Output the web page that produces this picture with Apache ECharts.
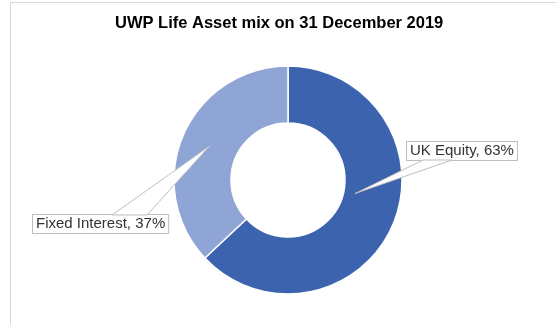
<!DOCTYPE html>
<html>
<head>
<meta charset="utf-8">
<script src="https://cdn.jsdelivr.net/npm/echarts@6/dist/echarts.min.js"></script>
<style>
  html, body { margin: 0; padding: 0; background: #fff; }
  #chart { width: 556px; height: 325px; }
</style>
</head>
<body>
<div id="chart"></div>
<script>
// Asset mix data
const categories = ['UK Equity', 'Fixed Interest'];
const values = [63, 37];
const colors = ['#3C64AE', '#8FA5D6'];

// Ring geometry
const CX = 288, CY = 180, R_INNER = 57, R_OUTER = 114;

// Callout boxes: top-left corner of each label box, where the pointer meets the box,
// and where the pointer tip sits inside its slice (angle shift from slice middle, depth in ring)
const callouts = [
  { x: 407, y: 142, base: [16, 45], side: 'bottom', angleShift: -12, ring: 0.2 },
  { x: 33,  y: 215, base: [79, 114], side: 'top', angleShift: 0, ring: 0.5 }
];
const BOX_H = 18;
const FONT = 'Arial, "Liberation Sans", sans-serif';

const chart = echarts.init(document.getElementById('chart'), null, { renderer: 'canvas' });

// Build pointer wedges from the slice angles computed from the values
const total = values.reduce((a, b) => a + b, 0);
let acc = 0;
const wedges = values.map((v, i) => {
  const start = acc / total * 360;
  acc += v;
  const end = acc / total * 360;
  const c = callouts[i];
  const theta = ((start + end) / 2 + c.angleShift) * Math.PI / 180;
  const r = R_INNER + (R_OUTER - R_INNER) * c.ring;
  const tip = [CX + r * Math.sin(theta), CY - r * Math.cos(theta)];
  const by = c.side === 'bottom' ? c.y + BOX_H : c.y;
  return {
    type: 'polygon',
    z: 10,
    silent: true,
    shape: { points: [tip, [c.x + c.base[0], by], [c.x + c.base[1], by]] },
    style: { fill: '#ffffff', stroke: '#BFBFBF', lineWidth: 1 }
  };
});

chart.setOption({
  backgroundColor: '#ffffff',
  animation: false,
  title: {
    text: 'UWP Life Asset mix on 31 December 2019',
    left: 110,
    top: 10,
    textStyle: { fontFamily: FONT, fontWeight: 'bold', fontSize: 16.5, color: '#000000' }
  },
  graphic: [
    {
      type: 'rect',
      z: -1,
      silent: true,
      shape: { x: 10.5, y: 2.5, width: 600, height: 400 },
      style: { fill: 'none', stroke: '#D9D9D9', lineWidth: 1 }
    }
  ].concat(wedges),
  series: [{
    type: 'pie',
    center: [CX, CY],
    radius: [R_INNER, R_OUTER],
    startAngle: 90,
    clockwise: true,
    avoidLabelOverlap: false,
    emphasis: { disabled: true },
    itemStyle: { borderColor: '#ffffff', borderWidth: 1.5 },
    label: {
      show: true,
      formatter: '{b}, {c}%',
      fontFamily: FONT,
      fontSize: 15,
      lineHeight: 16,
      color: '#333333',
      backgroundColor: '#ffffff',
      borderColor: '#BFBFBF',
      borderWidth: 1,
      padding: [1, 3]
    },
    labelLine: { show: false },
    labelLayout: function (params) {
      const c = callouts[params.dataIndex];
      return { x: c.x, y: c.y, align: 'left', verticalAlign: 'top' };
    },
    data: categories.map((name, i) => ({
      name: name,
      value: values[i],
      itemStyle: { color: colors[i] }
    }))
  }]
});
</script>
</body>
</html>
